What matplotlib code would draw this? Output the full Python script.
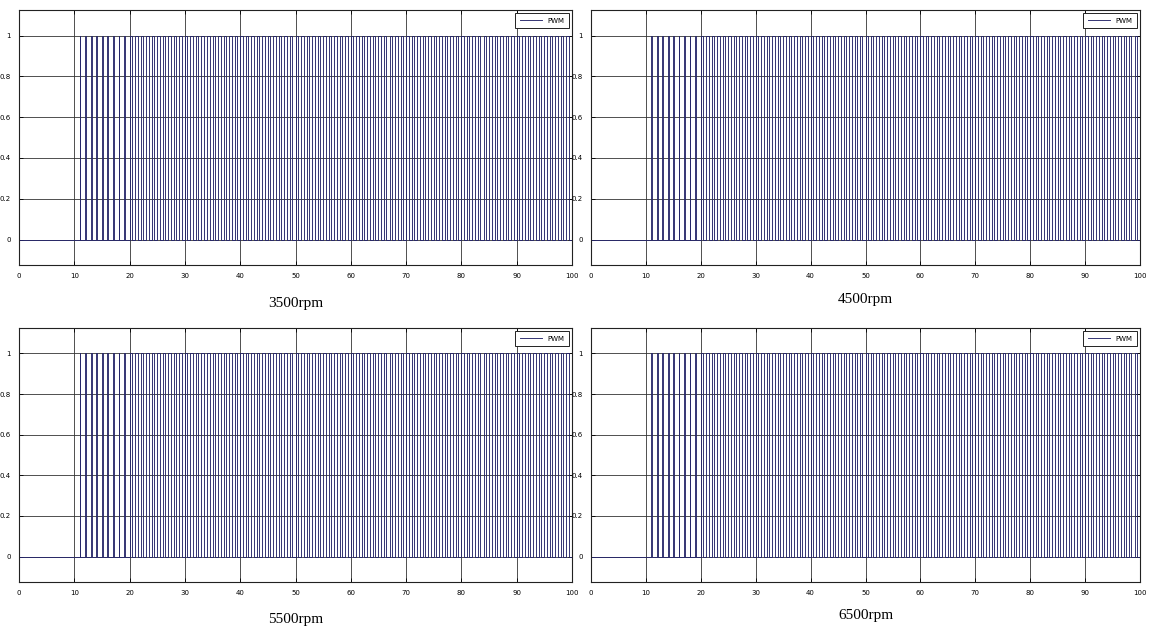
import matplotlib
matplotlib.use("Agg")
import matplotlib.pyplot as plt
import numpy as np

# PWM pulse data (same switching pattern)
rpm_labels = ["3500rpm", "4500rpm", "5500rpm", "6500rpm"]

# rising edges of the pulses
pulse_rise = [11, 12, 13, 14, 15, 16, 17, 18, 19,
              20, 21, 22, 23, 24, 25, 26, 27, 28, 29,
              30, 31, 32, 33, 34, 35, 36, 37, 38, 39,
              40, 41, 42, 43, 44, 45, 46, 47, 48, 49,
              50, 51, 52, 53, 54, 55, 56, 57, 58, 59,
              60, 61, 62, 63, 64, 65, 66, 67, 68, 69,
              70, 71, 72, 73, 74, 75, 76, 77, 78, 79,
              80, 81, 82, 83, 84, 85, 86, 87, 88, 89,
              90, 91, 92, 93, 94, 95, 96, 97, 98, 99]
# pulse widths: narrow start-up pulses, then ~half-period pulses
pulse_width = [0.12] * 9 + [0.45] * 81

x_ticks = [0, 10, 20, 30, 40, 50, 60, 70, 80, 90, 100]
y_ticks = [0, 0.2, 0.4, 0.6, 0.8, 1]
y_tick_labels = ["0", "0.2", "0.4", "0.6", "0.8", "1"]


def pwm_trace(rise, width):
  xs = [0]
  ys = [0]
  for r, w in zip(rise, width):
    xs += [r, r, r + w, r + w]
    ys += [0, 1, 1, 0]
  xs.append(100)
  ys.append(0)
  return np.array(xs), np.array(ys)


fig = plt.figure(figsize=(11.49, 6.30), dpi=100)

W, H = 1149.0, 630.0
# axes boxes in pixels: left, top, right, bottom
boxes = [(19, 10, 572, 265), (591, 10, 1140, 265),
         (19, 328, 572, 582), (591, 328, 1140, 582)]
title_y = [303, 299, 619, 615]

xs, ys = pwm_trace(pulse_rise, pulse_width)

for i, (l, t, r, b) in enumerate(boxes):
  ax = fig.add_axes([l / W, 1 - b / H, (r - l) / W, (b - t) / H])
  ax.plot(xs, ys, color="#26266a", linewidth=0.65, label="PWM")
  ax.set_xlim(0, 100)
  ax.set_ylim(-0.125, 1.125)
  ax.set_xticks(x_ticks)
  ax.set_yticks(y_ticks)
  ax.set_yticklabels(y_tick_labels)
  ax.grid(True, color="#333333", linewidth=0.6, linestyle="-")
  ax.set_axisbelow(True)
  ax.tick_params(direction="in", length=3, width=0.6, labelsize=5,
                 top=True, right=True, pad=6)
  for s in ax.spines.values():
    s.set_linewidth(0.8)
    s.set_color("#222222")
  leg = ax.legend(loc="upper right", fontsize=5, handlelength=3.2,
                  borderpad=0.6, framealpha=1, fancybox=False)
  leg.get_frame().set_edgecolor("#222222")
  leg.get_frame().set_linewidth(0.7)
  fig.text(((l + r) / 2) / W, 1 - title_y[i] / H, rpm_labels[i],
           ha="center", va="center", fontsize=11,
           family="Liberation Serif")

fig.savefig("out.png", dpi=100)
